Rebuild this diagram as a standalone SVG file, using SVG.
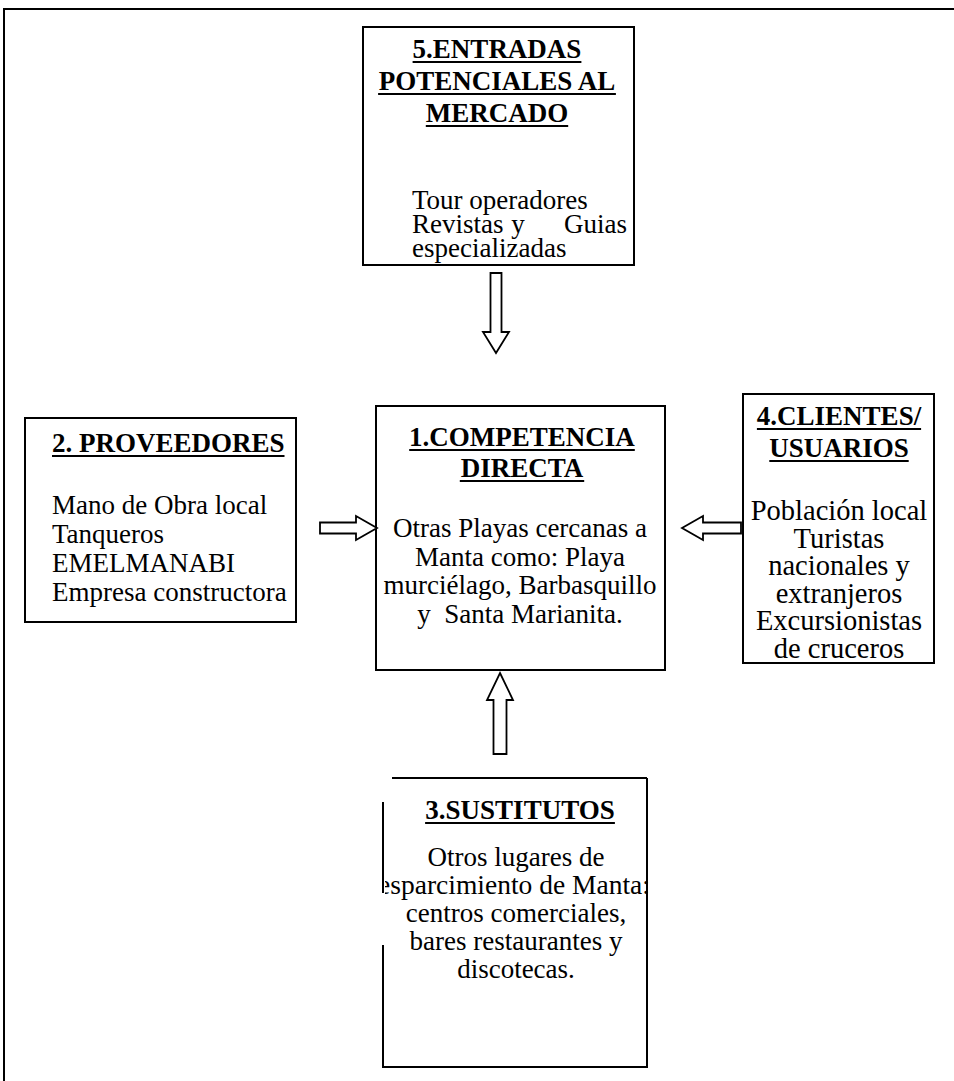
<svg xmlns="http://www.w3.org/2000/svg" width="954" height="1081" viewBox="0 0 954 1081">
<style>
.box{fill:#fff;stroke:#000;stroke-width:2}
.ln{stroke:#000;stroke-width:2;fill:none}
.ul{stroke:#000;stroke-width:2}
.t{font-family:"Liberation Serif","Times New Roman",serif;font-size:27px;font-weight:bold;fill:#000}
.b{font-family:"Liberation Serif","Times New Roman",serif;font-size:27px;fill:#000}
.b4{font-size:28.5px}
.arr{fill:#fff;stroke:#000;stroke-width:1.8;stroke-linejoin:miter}
</style>
<defs>
<clipPath id="c3"><rect x="385" y="770" width="266" height="300"/></clipPath>
</defs>
<rect width="954" height="1081" fill="#fff"/>
<g id="frame">
<line class="ln" x1="4" y1="9" x2="954" y2="9"/>
<line class="ln" x1="4" y1="8" x2="4" y2="1081"/>
</g>
<g id="node5">
<rect class="box" x="363" y="27" width="271" height="238"/>
<text class="t" text-anchor="middle" x="497" y="58">5.ENTRADAS</text>
<line class="ul" x1="412.6" y1="62" x2="581.4" y2="62"/>
<text class="t" text-anchor="middle" x="497" y="90">POTENCIALES AL</text>
<line class="ul" x1="378.1" y1="94" x2="615.9" y2="94"/>
<text class="t" text-anchor="middle" x="497" y="122">MERCADO</text>
<line class="ul" x1="425.8" y1="126" x2="568.2" y2="126"/>
<text class="b" x="412" y="209">Tour operadores</text>
<text class="b" y="233"><tspan x="412">Revistas</tspan><tspan x="518" text-anchor="middle">y</tspan><tspan x="627" text-anchor="end">Guias</tspan></text>
<text class="b" x="412" y="257">especializadas</text>
</g>
<g id="node2">
<rect class="box" x="25" y="418" width="271" height="204"/>
<text class="t" x="52" y="452">2. PROVEEDORES</text>
<line class="ul" x1="52" y1="456" x2="284.5" y2="456"/>
<text class="b" x="52" y="514">Mano de Obra local</text>
<text class="b" x="52" y="543">Tanqueros</text>
<text class="b" x="52" y="572">EMELMANABI</text>
<text class="b" x="52" y="601">Empresa constructora</text>
</g>
<g id="node1">
<rect class="box" x="376" y="406" width="289" height="264"/>
<text class="t" text-anchor="middle" x="522" y="446">1.COMPETENCIA</text>
<line class="ul" x1="409.2" y1="450" x2="634.8" y2="450"/>
<text class="t" text-anchor="middle" x="522" y="477">DIRECTA</text>
<line class="ul" x1="459.8" y1="481" x2="584.2" y2="481"/>
<text class="b" text-anchor="middle" x="520" y="537">Otras Playas cercanas a</text>
<text class="b" text-anchor="middle" x="520" y="565.5">Manta como: Playa</text>
<text class="b" text-anchor="middle" x="520" y="594">murciélago, Barbasquillo</text>
<text class="b" text-anchor="middle" x="520" y="622.5" xml:space="preserve">y  Santa Marianita.</text>
</g>
<g id="node4">
<rect class="box" x="743" y="394" width="191" height="269"/>
<text class="t" text-anchor="middle" x="839" y="425">4.CLIENTES/</text>
<line class="ul" x1="756.9" y1="429" x2="921.1" y2="429"/>
<text class="t" text-anchor="middle" x="839" y="457">USUARIOS</text>
<line class="ul" x1="769.3" y1="461" x2="908.7" y2="461"/>
<text class="b b4" text-anchor="middle" x="839" y="520">Población local</text>
<text class="b b4" text-anchor="middle" x="839" y="547.5">Turistas</text>
<text class="b b4" text-anchor="middle" x="839" y="575">nacionales y</text>
<text class="b b4" text-anchor="middle" x="839" y="602.5">extranjeros</text>
<text class="b b4" text-anchor="middle" x="839" y="630">Excursionistas</text>
<text class="b b4" text-anchor="middle" x="839" y="657.5">de cruceros</text>
</g>
<g id="node3">
<rect x="383" y="778" width="264" height="289" fill="#fff"/>
<line class="ln" x1="392" y1="778" x2="647" y2="778"/>
<line class="ln" x1="647" y1="778" x2="647" y2="1067"/>
<line class="ln" x1="382" y1="1067" x2="648" y2="1067"/>
<line class="ln" x1="383" y1="802" x2="383" y2="893"/>
<line class="ln" x1="383" y1="945" x2="383" y2="1067"/>
<text class="t" text-anchor="middle" x="520" y="819">3.SUSTITUTOS</text>
<line class="ul" x1="425.1" y1="823" x2="614.9" y2="823"/>
<g clip-path="url(#c3)">
<text class="b" text-anchor="middle" x="516" y="866">Otros lugares de</text>
<text class="b" text-anchor="middle" x="514" y="894" style="font-size:27.5px">esparcimiento de Manta:</text>
<text class="b" text-anchor="middle" x="516" y="922">centros comerciales,</text>
<text class="b" text-anchor="middle" x="516" y="950">bares restaurantes y</text>
<text class="b" text-anchor="middle" x="516" y="978">discotecas.</text>
</g>
</g>
<g id="connectors">
<polygon class="arr" points="490.5,273 501.5,273 501.5,332 509,332 496,353 483,332 490.5,332"/>
<polygon class="arr" points="500,673 513,700 506.5,700 506.5,754 493.5,754 493.5,700 487,700"/>
<polygon class="arr" points="320,522.5 356,522.5 356,516 377,528 356,540 356,533.5 320,533.5"/>
<polygon class="arr" points="682,528 703,516 703,522.5 741,522.5 741,533.5 703,533.5 703,540"/>
</g>
</svg>
